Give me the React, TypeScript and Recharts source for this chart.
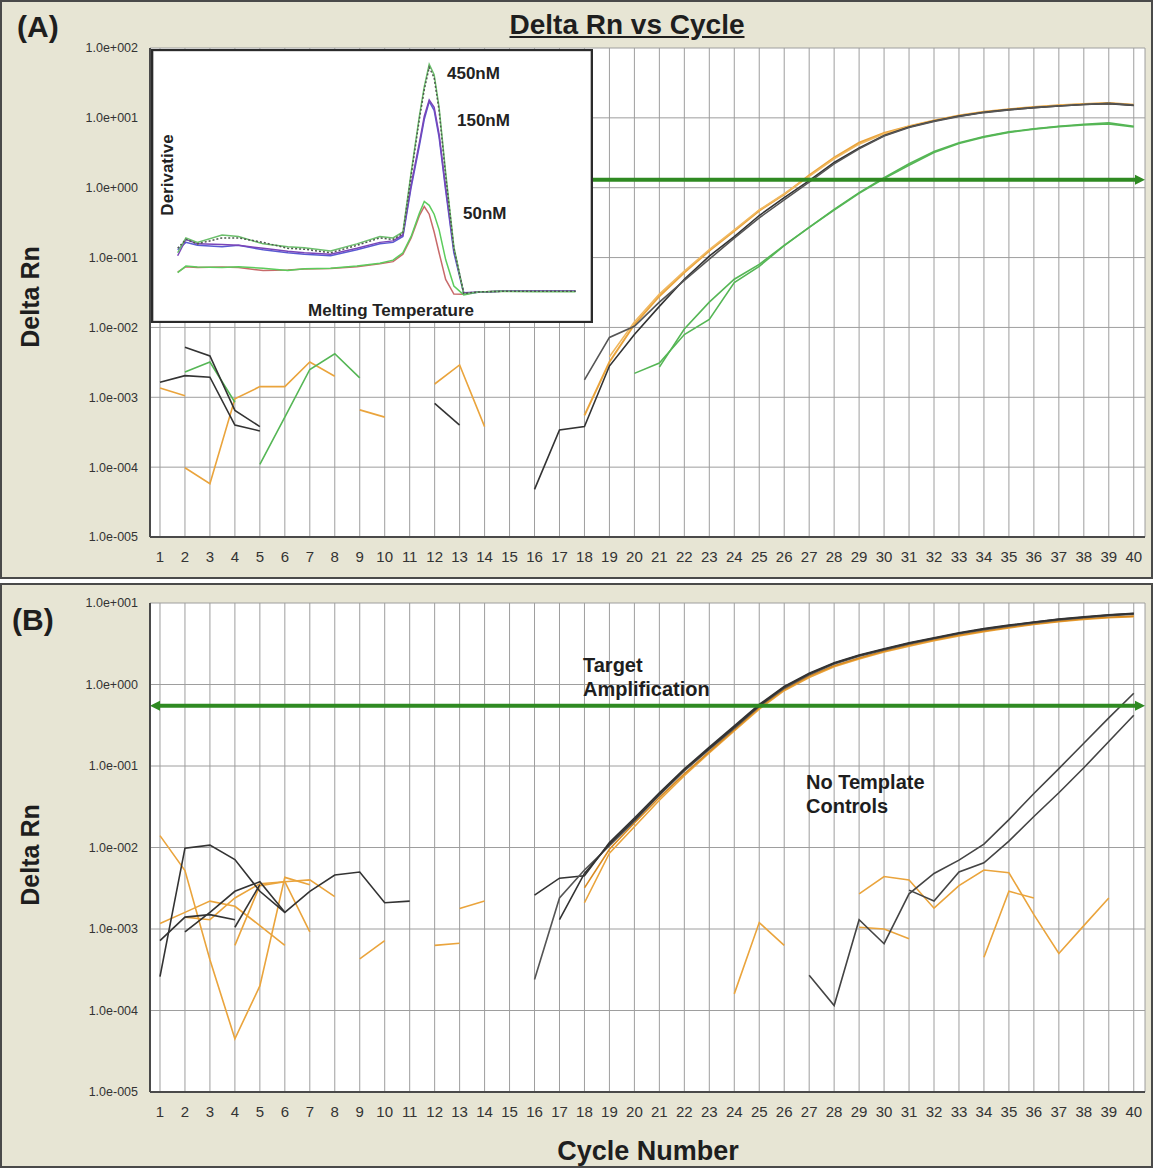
import React from "react";
import { CartesianGrid, Line, LineChart, ReferenceLine, XAxis, YAxis } from "recharts";

const cycles = [
  1, 2, 3, 4, 5, 6, 7, 8, 9, 10, 11, 12, 13, 14, 15, 16, 17, 18, 19, 20,
  21, 22, 23, 24, 25, 26, 27, 28, 29, 30, 31, 32, 33, 34, 35, 36, 37, 38, 39, 40,
];
const decadesA = [1e-5, 1e-4, 1e-3, 1e-2, 1e-1, 1, 10, 100];
const decadesB = [1e-5, 1e-4, 1e-3, 1e-2, 1e-1, 1, 10];
const thresholdA = 1.3;
const thresholdB = 0.55;

// a well's readings start at a given cycle; cycles without a reading stay empty
const run = (start: number, values: number[]) =>
  cycles.map((c) => (c >= start && c < start + values.length ? values[c - start] : null));

// ---- panel A wells
const aBlack1 = run(1, [1.64e-3, 2.04e-3, 1.94e-3, 4.0e-4, 3.3e-4]);
const aBlack2 = run(2, [5.2e-3, 3.9e-3, 6.5e-4, 3.8e-4]);
const aBlack3 = run(12, [8.2e-4, 4.0e-4]);
const aBlack4 = run(16, [
  4.8e-5, 3.4e-4, 3.8e-4, 2.8e-3, 7.9e-3, 0.02, 0.049, 0.105, 0.2, 0.4, 0.72, 1.26, 2.3,
  3.7, 5.6, 7.4, 9.0, 10.6, 12.0, 13.1, 14.0, 14.8, 15.5, 16.0, 15.0,
]);
const aBlack5 = run(18, [
  1.78e-3, 7.2e-3, 0.0104, 0.023, 0.047, 0.095, 0.19, 0.37, 0.67, 1.2, 2.2, 3.6, 5.5, 7.3,
  8.9, 10.5, 11.9, 13.0, 14.0, 14.8, 15.5, 16.1, 15.2,
]);
const aOrange1 = run(1, [1.36e-3, 1.05e-3]);
const aOrange2 = run(2, [9.8e-5, 5.8e-5, 9.5e-4, 1.42e-3, 1.42e-3, 3.2e-3, 2.0e-3]);
const aOrange3 = run(9, [6.6e-4, 5.2e-4]);
const aOrange4 = run(12, [1.55e-3, 2.9e-3, 3.8e-4]);
const aOrange5 = run(18, [
  5.5e-4, 3.2e-3, 0.011, 0.028, 0.061, 0.125, 0.24, 0.47, 0.8, 1.5, 2.7, 4.4, 6.1, 7.6,
  9.2, 10.8, 12.2, 13.3, 14.3, 15.1, 15.8, 16.3, 15.4,
]);
const aOrange6 = run(19, [
  3.8e-3, 0.012, 0.03, 0.064, 0.13, 0.25, 0.48, 0.82, 1.45, 2.6, 4.2, 5.9, 7.5, 9.1,
  10.7, 12.1, 13.2, 14.2, 15.0, 15.7, 16.2, 15.3,
]);
const aGreen1 = run(2, [2.3e-3, 3.2e-3, 8.5e-4]);
const aGreen2 = run(5, [1.1e-4, 5.2e-4, 2.5e-3, 4.2e-3, 1.9e-3]);
const aGreen3 = run(20, [
  2.2e-3, 3.1e-3, 7.9e-3, 0.013, 0.044, 0.075, 0.148, 0.27, 0.49, 0.85, 1.39, 2.2, 3.3,
  4.4, 5.4, 6.3, 7.0, 7.6, 8.1, 8.5, 7.6,
]);
const aGreen4 = run(21, [
  2.7e-3, 9.5e-3, 0.023, 0.049, 0.08, 0.15, 0.27, 0.48, 0.83, 1.35, 2.1, 3.2, 4.3, 5.3,
  6.2, 6.9, 7.5, 7.9, 8.2, 7.4,
]);

// ---- panel B wells
const bBlack1 = run(1, [2.6e-4, 9.8e-3, 1.07e-2, 7.1e-3, 2.9e-3, 1.6e-3, 2.9e-3, 4.6e-3, 5.0e-3, 2.1e-3, 2.2e-3]);
const bBlack2 = run(1, [7.2e-4, 1.4e-3, 1.5e-3, 1.3e-3]);
const bBlack3 = run(2, [9.2e-4, 1.6e-3, 2.9e-3, 3.8e-3, 1.6e-3]);
const bBlack4 = run(4, [1.05e-3, 3.5e-3]);
const bBlack5 = run(16, [
  2.6e-3, 4.2e-3, 4.5e-3, 0.0115, 0.023, 0.047, 0.092, 0.17, 0.31, 0.57, 0.95, 1.38, 1.85,
  2.3, 2.75, 3.25, 3.75, 4.3, 4.85, 5.35, 5.85, 6.35, 6.75, 7.15, 7.45,
]);
const bBlack6 = run(16, [
  2.4e-4, 2.4e-3, 5.3e-3, 0.0105, 0.021, 0.044, 0.087, 0.16, 0.29, 0.54, 0.9, 1.32, 1.78,
  2.22, 2.65, 3.15, 3.65, 4.2, 4.7, 5.2, 5.7, 6.2, 6.6, 7.0, 7.3,
]);
const bBlack7 = run(17, [
  1.3e-3, 4.8e-3, 0.011, 0.022, 0.045, 0.09, 0.165, 0.3, 0.55, 0.93, 1.35, 1.82, 2.27, 2.7,
  3.2, 3.7, 4.25, 4.8, 5.3, 5.8, 6.3, 6.7, 7.1, 7.4,
]);
const bNtc1 = run(27, [2.7e-4, 1.15e-4, 1.3e-3, 6.6e-4, 2.7e-3, 4.8e-3, 7.0e-3, 0.011, 0.022, 0.046, 0.093, 0.19, 0.39, 0.78]);
const bNtc2 = run(31, [3.0e-3, 2.2e-3, 5.0e-3, 6.5e-3, 0.012, 0.024, 0.047, 0.095, 0.2, 0.42]);
const bOrange1 = run(1, [0.014, 5.2e-3, 4.2e-4, 4.5e-5, 2.0e-4, 4.3e-3, 3.5e-3]);
const bOrange2 = run(1, [1.17e-3, 1.6e-3, 2.2e-3, 1.9e-3, 1.1e-3, 6.3e-4]);
const bOrange3 = run(2, [1.4e-3, 1.3e-3, 2.4e-3, 3.6e-3, 3.8e-3, 4.0e-3, 2.5e-3]);
const bOrange4 = run(4, [6.3e-4, 3.4e-3, 3.8e-3, 9.2e-4]);
const bOrange5 = run(9, [4.3e-4, 7.2e-4]);
const bOrange6 = run(12, [6.3e-4, 6.7e-4]);
const bOrange7 = run(13, [1.78e-3, 2.2e-3]);
const bOrange8 = run(18, [
  2.1e-3, 8.5e-3, 0.018, 0.038, 0.076, 0.145, 0.27, 0.5, 0.84, 1.22, 1.65, 2.05, 2.5, 2.95,
  3.45, 3.95, 4.45, 4.95, 5.45, 5.9, 6.3, 6.6, 6.8,
]);
const bOrange9 = run(18, [
  3.2e-3, 9.5e-3, 0.02, 0.041, 0.08, 0.15, 0.28, 0.52, 0.87, 1.27, 1.7, 2.12, 2.58, 3.05,
  3.55, 4.05, 4.55, 5.05, 5.55, 6.0, 6.4, 6.7, 6.9,
]);
const bOrange10 = run(24, [1.6e-4, 1.2e-3, 6.3e-4]);
const bOrange11 = run(29, [2.7e-3, 4.4e-3, 4.0e-3, 1.8e-3, 3.4e-3, 5.3e-3, 4.9e-3, 1.5e-3, 5.0e-4, 1.1e-3, 2.4e-3]);
const bOrange12 = run(29, [1.05e-3, 1.0e-3, 7.6e-4]);
const bOrange13 = run(34, [4.5e-4, 2.9e-3, 2.4e-3]);

// ---- inset: melt curve derivative
const meltTemps = [
  62.3, 62.8, 63.5, 65, 66, 67.5, 69, 70, 71.6, 73.2, 74.6, 75.4, 76.0, 76.5, 77.0, 77.3,
  77.6, 77.9, 78.2, 78.6, 79.1, 79.7, 80.6, 82, 84, 86.5,
];
const d450a = [2.3, 2.8, 2.65, 2.9, 2.85, 2.6, 2.5, 2.47, 2.36, 2.6, 2.85, 2.8, 3.0, 5.0, 6.9, 7.9, 8.65, 8.3, 7.2, 5.0, 2.5, 0.91, 0.98, 1.0, 0.99, 0.99];
const d450b = [2.45, 2.75, 2.6, 2.8, 2.8, 2.65, 2.45, 2.42, 2.3, 2.55, 2.8, 2.75, 2.95, 4.9, 6.8, 7.8, 8.55, 8.2, 7.1, 4.9, 2.45, 0.93, 0.98, 1.0, 1.0, 1.0];
const d150a = [2.2, 2.75, 2.6, 2.58, 2.55, 2.45, 2.35, 2.3, 2.25, 2.45, 2.65, 2.7, 2.9, 4.6, 6.0, 6.9, 7.45, 7.2, 6.3, 4.5, 2.4, 0.95, 0.98, 1.0, 1.0, 1.0];
const d150b = [2.4, 2.65, 2.55, 2.5, 2.55, 2.4, 2.3, 2.25, 2.2, 2.4, 2.6, 2.65, 2.85, 4.5, 5.9, 6.8, 7.4, 7.1, 6.2, 4.4, 2.3, 0.93, 0.97, 1.0, 1.0, 1.0];
const d50a = [1.63, 1.85, 1.82, 1.8, 1.83, 1.78, 1.7, 1.76, 1.78, 1.85, 1.95, 2.05, 2.3, 2.85, 3.63, 4.03, 3.9, 3.6, 3.08, 2.07, 1.18, 0.88, 0.98, 1.0, 1.0, 1.0];
const d50b = [1.65, 1.83, 1.8, 1.82, 1.8, 1.7, 1.72, 1.75, 1.77, 1.83, 1.93, 2.0, 2.25, 2.8, 3.55, 3.86, 3.6, 3.0, 2.3, 1.4, 0.91, 0.9, 0.98, 1.0, 1.0, 1.0];
const meltTicksX = [65, 70, 75, 80, 85];
const meltTicksY = [1, 2, 3, 4, 5, 6, 7, 8];

const BLACK = "#333333";
const ORANGE = "#eaa43c";
const GREEN = "#55b655";
const THRESH = "#2f8a22";
const BEIGE = "#e7e5d4";
const FONT = "'Liberation Sans', Arial, sans-serif";

type Series = { key: string; color: string; values: (number | null)[]; width?: number; dash?: string };

const seriesA: Series[] = [
  { key: "aOrange1", color: ORANGE, values: aOrange1 },
  { key: "aOrange2", color: ORANGE, values: aOrange2 },
  { key: "aOrange3", color: ORANGE, values: aOrange3 },
  { key: "aOrange4", color: ORANGE, values: aOrange4 },
  { key: "aGreen1", color: GREEN, values: aGreen1 },
  { key: "aGreen2", color: GREEN, values: aGreen2 },
  { key: "aGreen3", color: GREEN, values: aGreen3 },
  { key: "aGreen4", color: GREEN, values: aGreen4 },
  { key: "aBlack1", color: BLACK, values: aBlack1 },
  { key: "aBlack2", color: BLACK, values: aBlack2 },
  { key: "aBlack3", color: BLACK, values: aBlack3 },
  { key: "aOrange5", color: ORANGE, values: aOrange5, width: 2 },
  { key: "aOrange6", color: "#f0b860", values: aOrange6 },
  { key: "aBlack4", color: BLACK, values: aBlack4 },
  { key: "aBlack5", color: "#555555", values: aBlack5 },
];

const seriesB: Series[] = [
  { key: "bOrange1", color: ORANGE, values: bOrange1 },
  { key: "bOrange2", color: ORANGE, values: bOrange2 },
  { key: "bOrange3", color: ORANGE, values: bOrange3 },
  { key: "bOrange4", color: ORANGE, values: bOrange4 },
  { key: "bOrange5", color: ORANGE, values: bOrange5 },
  { key: "bOrange6", color: ORANGE, values: bOrange6 },
  { key: "bOrange7", color: ORANGE, values: bOrange7 },
  { key: "bOrange10", color: ORANGE, values: bOrange10 },
  { key: "bOrange11", color: ORANGE, values: bOrange11 },
  { key: "bOrange12", color: ORANGE, values: bOrange12 },
  { key: "bOrange13", color: ORANGE, values: bOrange13 },
  { key: "bBlack1", color: BLACK, values: bBlack1 },
  { key: "bBlack2", color: BLACK, values: bBlack2 },
  { key: "bBlack3", color: BLACK, values: bBlack3 },
  { key: "bBlack4", color: BLACK, values: bBlack4 },
  { key: "bNtc1", color: "#444444", values: bNtc1 },
  { key: "bNtc2", color: "#444444", values: bNtc2 },
  { key: "bOrange8", color: ORANGE, values: bOrange8 },
  { key: "bOrange9", color: "#d98a20", values: bOrange9 },
  { key: "bBlack5", color: BLACK, values: bBlack5 },
  { key: "bBlack6", color: "#555555", values: bBlack6 },
  { key: "bBlack7", color: BLACK, values: bBlack7 },
];

const meltSeries: Series[] = [
  { key: "d50b", color: "#c86a6a", values: d50b },
  { key: "d50a", color: "#5ccc5c", values: d50a },
  { key: "d150b", color: "#5a5ad2", values: d150b },
  { key: "d150a", color: "#7a45b8", values: d150a },
  { key: "d450a", color: "#6cbf6c", values: d450a },
  { key: "d450b", color: "#4e5a4e", values: d450b, dash: "2 2" },
];

const sci = (v: number) => {
  const e = Math.round(Math.log10(v));
  return `1.0e${e < 0 ? "-" : "+"}${String(Math.abs(e)).padStart(3, "0")}`;
};

const thresholdShape = (both: boolean) => (p: any) => {
  const left = Math.min(Number(p.x1), Number(p.x2));
  const right = Math.max(Number(p.x1), Number(p.x2));
  const y = Number(p.y1);
  return (
    <g>
      <line x1={both ? left + 8 : left} y1={y} x2={right - 8} y2={y} stroke={THRESH} strokeWidth={4} />
      <path d={`M${right},${y} L${right - 10},${y - 5} L${right - 10},${y + 5} Z`} fill={THRESH} />
      {both && <path d={`M${left},${y} L${left + 10},${y - 5} L${left + 10},${y + 5} Z`} fill={THRESH} />}
    </g>
  );
};

function CyclePanel({
  series,
  ticks,
  threshold,
  both,
  height,
  top,
  bottom,
}: {
  series: Series[];
  ticks: number[];
  threshold: number;
  both: boolean;
  height: number;
  top: number;
  bottom: number;
}) {
  const rows = cycles.map((c, i) => {
    const row: Record<string, number | null> = { cycle: c };
    series.forEach((s) => (row[s.key] = s.values[i]));
    return row;
  });
  return (
    <LineChart width={1153} height={height} data={rows} margin={{ top, right: 8, bottom, left: 0 }}>
      <CartesianGrid stroke="#9e9e9e" fill="#ffffff" />
      <XAxis
        dataKey="cycle"
        type="number"
        domain={[0.6, 40.45]}
        ticks={cycles}
        interval={0}
        allowDataOverflow
        tickLine={false}
        tickMargin={8}
        height={30}
        axisLine={{ stroke: "#4a4a4a", strokeWidth: 2 }}
        tick={{ fontSize: 15, fill: "#333", fontFamily: FONT }}
      />
      <XAxis xAxisId="top" orientation="top" type="number" domain={[0, 1]} tick={false} tickLine={false} height={0} axisLine={{ stroke: "#888" }} />
      <YAxis
        scale="log"
        domain={[ticks[0], ticks[ticks.length - 1]]}
        ticks={ticks}
        interval={0}
        allowDataOverflow
        tickFormatter={sci}
        tickLine={false}
        tickMargin={6}
        width={150}
        axisLine={{ stroke: "#4a4a4a", strokeWidth: 2 }}
        tick={{ fontSize: 12.5, fill: "#333", fontFamily: FONT }}
      />
      <YAxis yAxisId="right" orientation="right" domain={[0, 1]} tick={false} tickLine={false} width={0} axisLine={{ stroke: "#888" }} />
      {series.map((s) => (
        <Line
          key={s.key}
          dataKey={s.key}
          stroke={s.color}
          strokeWidth={s.width ?? 1.6}
          dot={false}
          activeDot={false}
          isAnimationActive={false}
        />
      ))}
      <ReferenceLine y={threshold} shape={thresholdShape(both)} />
    </LineChart>
  );
}

function MeltInset() {
  const rows = meltTemps.map((t, i) => {
    const row: Record<string, number | null> = { t };
    meltSeries.forEach((s) => (row[s.key] = s.values[i]));
    return row;
  });
  const label: React.CSSProperties = {
    position: "absolute",
    fontFamily: FONT,
    fontWeight: 700,
    fontSize: 17,
    lineHeight: 1,
    color: "#222",
    whiteSpace: "nowrap",
  };
  return (
    <div
      style={{
        position: "absolute",
        left: 151,
        top: 49,
        width: 438,
        height: 270,
        border: "2px solid #2b2b2b",
        background: "#fff",
      }}
    >
      <LineChart width={438} height={270} data={rows} margin={{ top: 0, right: 0, bottom: 0, left: 0 }}>
        <CartesianGrid stroke="#b4b4b4" vertical={false} />
        <CartesianGrid stroke="#777" horizontal={false} />
        <XAxis dataKey="t" type="number" domain={[60.8, 87.44]} ticks={meltTicksX} tick={false} tickLine={false} axisLine={false} height={0} />
        <YAxis domain={[0, 9.1]} ticks={meltTicksY} tick={false} tickLine={false} axisLine={false} width={0} />
        {meltSeries.map((s) => (
          <Line
            key={s.key}
            dataKey={s.key}
            stroke={s.color}
            strokeWidth={1.5}
            strokeDasharray={s.dash}
            dot={false}
            activeDot={false}
            isAnimationActive={false}
          />
        ))}
      </LineChart>
      <div style={{ ...label, left: 294, top: 14 }}>450nM</div>
      <div style={{ ...label, left: 304, top: 61 }}>150nM</div>
      <div style={{ ...label, left: 310, top: 154 }}>50nM</div>
      <div style={{ ...label, left: 14, top: 124, transform: "translate(-50%, -50%) rotate(-90deg)" }}>Derivative</div>
      <div style={{ ...label, left: 238, top: 259, transform: "translate(-50%, -50%)" }}>Melting Temperature</div>
    </div>
  );
}

const bold = (size: number): React.CSSProperties => ({
  position: "absolute",
  fontFamily: FONT,
  fontWeight: 700,
  fontSize: size,
  lineHeight: 1,
  color: "#1e1e1e",
  whiteSpace: "nowrap",
});

export default function App() {
  return (
    <div style={{ position: "absolute", left: 0, top: 0, width: 1153, height: 1168, background: "#fff" }}>
      <div
        style={{
          position: "absolute",
          left: 0,
          top: 0,
          width: 1153,
          height: 579,
          background: BEIGE,
          boxShadow: "inset 0 0 0 2px #4a4a4a",
        }}
      >
        <CyclePanel series={seriesA} ticks={decadesA} threshold={thresholdA} both={false} height={579} top={48} bottom={12} />
        <MeltInset />
        <div style={{ ...bold(28), left: 627, top: 25, transform: "translate(-50%, -50%)", textDecoration: "underline" }}>
          Delta Rn vs Cycle
        </div>
        <div style={{ ...bold(30), left: 17, top: 27, transform: "translateY(-50%)" }}>(A)</div>
        <div style={{ ...bold(25), left: 30, top: 297, transform: "translate(-50%, -50%) rotate(-90deg)" }}>Delta Rn</div>
      </div>
      <div
        style={{
          position: "absolute",
          left: 0,
          top: 583,
          width: 1153,
          height: 585,
          background: BEIGE,
          boxShadow: "inset 0 0 0 2px #4a4a4a",
        }}
      >
        <CyclePanel series={seriesB} ticks={decadesB} threshold={thresholdB} both={true} height={585} top={20} bottom={46} />
        <div style={{ ...bold(30), left: 12, top: 37, transform: "translateY(-50%)" }}>(B)</div>
        <div style={{ ...bold(25), left: 30, top: 272, transform: "translate(-50%, -50%) rotate(-90deg)" }}>Delta Rn</div>
        <div style={{ ...bold(27), left: 648, top: 568, transform: "translate(-50%, -50%)" }}>Cycle Number</div>
        <div style={{ ...bold(20), left: 583, top: 82, transform: "translateY(-50%)" }}>Target</div>
        <div style={{ ...bold(20), left: 583, top: 106, transform: "translateY(-50%)" }}>Amplification</div>
        <div style={{ ...bold(20), left: 806, top: 199, transform: "translateY(-50%)" }}>No Template</div>
        <div style={{ ...bold(20), left: 806, top: 223, transform: "translateY(-50%)" }}>Controls</div>
      </div>
    </div>
  );
}
